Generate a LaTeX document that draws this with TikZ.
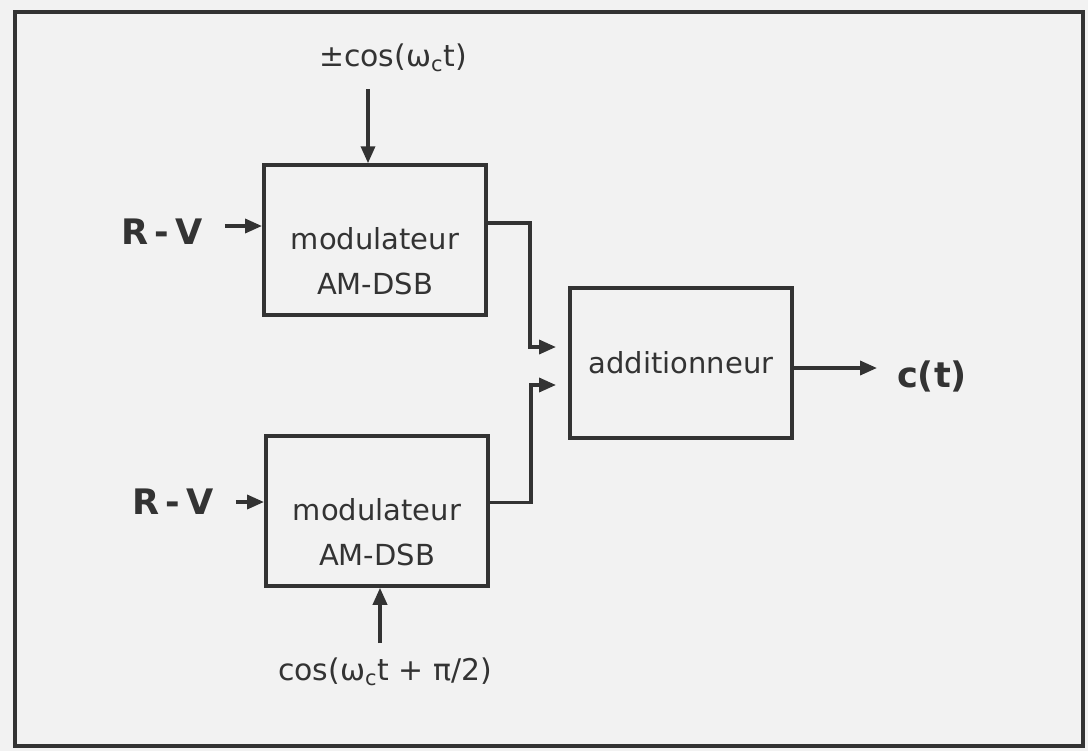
\documentclass[tikz,border=0pt]{standalone}
\usepackage{fontspec}
\setmainfont{DejaVu Sans}
\usepackage{xcolor}
\usepackage{tikz}
\usetikzlibrary{arrows.meta, positioning}
\definecolor{ink}{HTML}{333333}
\definecolor{paper}{HTML}{F2F2F2}

\begin{document}
\begin{tikzpicture}[x=0.02cm, y=-0.02cm, line width=2pt, color=ink,
        every node/.style={align=center, font=\fontsize{16.5}{26}\selectfont},
        block/.style={draw, rectangle, minimum width=4.45cm, minimum height=3cm, inner sep=0pt},
        signal/.style={font=\fontsize{17}{20}\selectfont},
        bigsig/.style={font=\fontsize{20}{24}\selectfont\bfseries},
        arr/.style={-{Triangle[length=0.34cm, width=0.28cm]}}]
        \fill[paper] (0,0) rectangle (1088,751);
        \draw[line width=2.2pt] (15,12) rectangle (1083,746);
        \useasboundingbox (0,0) rectangle (1088,751);

        \node (mod1) [block, label={[yshift=-12pt]center:modulateur\\AM-DSB}] at (375,240) {};
        \node (mod2) [block, label={[yshift=-12pt]center:modulateur\\AM-DSB}] at (377,511) {};
        \node (add) [block] at (681,363) {additionneur};

        \node (rv1) [bigsig] at (162,232) {R\,-\,V};
        \node (rv2) [bigsig] at (173,502) {R\,-\,V};
        \node (ct) [bigsig] at (932,376) {c(t)};
        \node (carr) [signal] at (393,58) {±cos(ω\textsubscript{c}t)};
        \node (carrq) [signal] at (385,672) {cos(ω\textsubscript{c}t + π/2)};

        \draw[arr, shorten <=0.3cm] ([yshift=0.12cm]rv1.east) -- ([yshift=0.12cm]rv1.east -| mod1.west);
        \draw[arr, shorten <=0.3cm] (rv2.east) -- (rv2.east -| mod2.west);
        \draw[arr] ([xshift=-0.5cm, yshift=-0.2cm]carr.south) -- ([xshift=-0.5cm]carr.south |- mod1.north);
        \draw[arr] ([xshift=-0.1cm, yshift=0.15cm]carrq.north) -- ([xshift=-0.1cm]carrq.north |- mod2.south);

        \draw[arr, shorten >=0.24cm] ([yshift=0.34cm]mod1.east) -- ++(42,0) |- ([yshift=0.32cm]add.west);
        \draw[arr, shorten >=0.24cm] ([yshift=0.17cm]mod2.east) -- ++(41,0) |- ([yshift=-0.44cm]add.west);
        \draw[arr, shorten >=0.25cm] ([yshift=-0.1cm]add.east) -- ([yshift=-0.1cm]add.east -| ct.west);
    \end{tikzpicture}
\end{document}
